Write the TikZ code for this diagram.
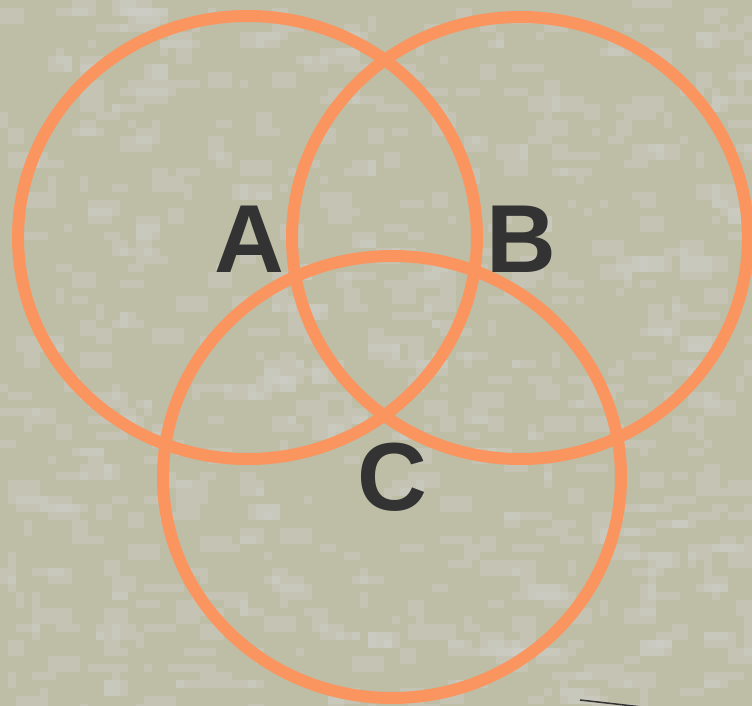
\documentclass[tikz,border=0pt]{standalone}
\usepackage{fontspec}
\setmainfont{Liberation Sans}
\usetikzlibrary{positioning}
\definecolor{venncirc}{RGB}{250,149,95}
\definecolor{bgbeige}{RGB}{190,189,166}
\definecolor{bgspot}{RGB}{207,207,201}
\definecolor{labelgray}{RGB}{51,51,51}

\begin{document}
\begin{tikzpicture}[x=0.02cm, y=-0.02cm,
  ring/.style={draw=venncirc, line width=0.24cm},
  setlabel/.style={font=\fontsize{55}{60}\selectfont\bfseries, text=labelgray, inner sep=0pt}]
  \useasboundingbox (0,0) rectangle (752,706);
  \clip (0,0) rectangle (752,706);

  % textured background
  \fill[bgbeige] (0,0) rectangle (752,706);
  \pgfmathsetseed{7}
  \foreach \k in {1,...,750}{
    \pgfmathtruncatemacro{\gx}{random(0,93)}
    \pgfmathtruncatemacro{\gy}{random(0,88)}
    \pgfmathtruncatemacro{\gw}{random(1,4)}
    \pgfmathtruncatemacro{\gh}{random(1,2)}
    \fill[bgspot, opacity=0.42] (8*\gx,8*\gy) rectangle ++(8*\gw,8*\gh);
  }

  % set centres
  \coordinate (cA) at (247.5,237.5);
  \coordinate (cB) at (520,238);
  \coordinate (cC) at (392,477);

  % the three sets
  \draw[ring] (cA) ellipse [x radius=229.5, y radius=221.5];
  \draw[ring] (cB) ellipse [x radius=228, y radius=221];
  \draw[ring] (cC) ellipse [x radius=229, y radius=221];

  % labels
  \node[setlabel] (labA) at (249,239) {A};
  \node[setlabel] (labB) at (521,239) {B};
  \node[setlabel] (labC) at (392,477) {C};

  % stray edge at the bottom
  \coordinate (edgeL) at (580,700);
  \draw[labelgray, line width=0.03cm] (edgeL) -- ++(80,9);
\end{tikzpicture}
\end{document}
